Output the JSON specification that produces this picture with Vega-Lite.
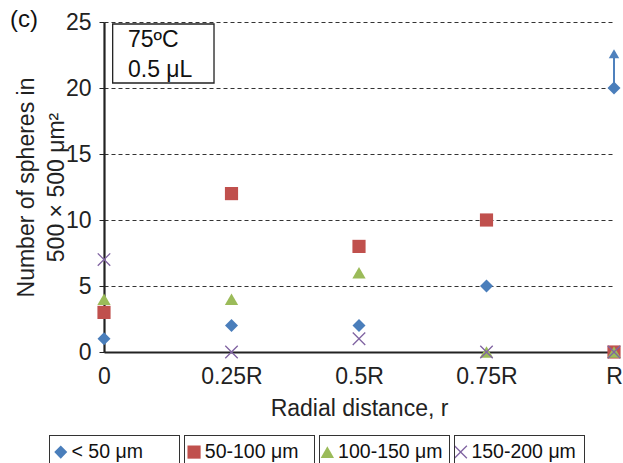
{
  "$schema": "https://vega.github.io/schema/vega-lite/v6.json",
  "width": 510,
  "height": 330,
  "autosize": {"type": "none"},
  "padding": {"left": 104, "top": 22, "right": 9, "bottom": 111},
  "config": {
    "font": "Liberation Sans",
    "view": {"stroke": null},
    "axis": {"labelFont": "Liberation Sans", "titleFont": "Liberation Sans", "labelColor": "#222", "titleColor": "#222"}
  },
  "title": {"text": "(c)", "anchor": "start", "frame": "group", "fontSize": 24, "fontWeight": "normal", "color": "#111", "dx": -94, "offset": -40, "baseline": "alphabetic"},
  "datasets": {
    "points": [
      {"r": 0, "n": 1, "size": "< 50 μm"},
      {"r": 0, "n": 3, "size": "50-100 μm"},
      {"r": 0, "n": 4, "size": "100-150 μm"},
      {"r": 0, "n": 7, "size": "150-200 μm"},
      {"r": 0.25, "n": 2, "size": "< 50 μm"},
      {"r": 0.25, "n": 12, "size": "50-100 μm"},
      {"r": 0.25, "n": 4, "size": "100-150 μm"},
      {"r": 0.25, "n": 0, "size": "150-200 μm"},
      {"r": 0.5, "n": 2, "size": "< 50 μm"},
      {"r": 0.5, "n": 8, "size": "50-100 μm"},
      {"r": 0.5, "n": 6, "size": "100-150 μm"},
      {"r": 0.5, "n": 1, "size": "150-200 μm"},
      {"r": 0.75, "n": 5, "size": "< 50 μm"},
      {"r": 0.75, "n": 10, "size": "50-100 μm"},
      {"r": 0.75, "n": 0, "size": "100-150 μm"},
      {"r": 0.75, "n": 0, "size": "150-200 μm"},
      {"r": 1, "n": 20, "size": "< 50 μm"},
      {"r": 1, "n": 0, "size": "50-100 μm"},
      {"r": 1, "n": 0, "size": "100-150 μm"},
      {"r": 1, "n": 0, "size": "150-200 μm"}
    ],
    "box": [{"x": 0.017, "x2": 0.2157, "y": 24.85, "y2": 20.38}],
    "notes": [
      {"x": 0.047, "y": 23.6, "t": "75ºC"},
      {"x": 0.047, "y": 21.4, "t": "0.5 μL"}
    ],
    "arrow": [{"r": 1, "from": 20, "to": 22.3, "head": 22.6}]
  },
  "layer": [
    {
      "data": {"name": "box"},
      "mark": {"type": "rect", "fill": "white", "stroke": "#222", "strokeWidth": 1.3},
      "encoding": {
        "x": {"field": "x", "type": "quantitative", "scale": {"domain": [0, 1], "nice": false}, "axis": {"values": [0, 0.25, 0.5, 0.75, 1], "labelExpr": "datum.value == 0 ? '0' : datum.value == 1 ? 'R' : datum.value + 'R'", "labelFlush": false, "grid": false, "ticks": false, "domainColor": "#222", "domainWidth": 2.2, "labelFontSize": 23, "labelPadding": 13, "title": "Radial distance, r", "titleFontSize": 23, "titleFontWeight": "normal", "titlePadding": 9}},
        "x2": {"field": "x2"},
        "y": {"field": "y", "type": "quantitative", "scale": {"domain": [0, 25], "nice": false}, "axis": {"values": [0, 5, 10, 15, 20, 25], "grid": true, "gridDash": [4, 3], "gridColor": "#333", "gridWidth": 1.1, "domainColor": "#222", "domainWidth": 2.2, "tickColor": "#222", "tickSize": 5, "labelFontSize": 23, "labelPadding": 8, "title": ["Number of spheres in", "500 × 500 μm²"], "titleFontSize": 23, "titleFontWeight": "normal", "titlePadding": -3, "titleLineHeight": 30}},
        "y2": {"field": "y2"}
      }
    },
    {
      "data": {"name": "notes"},
      "mark": {"type": "text", "align": "left", "baseline": "middle", "fontSize": 23, "color": "#111"},
      "encoding": {
        "x": {"field": "x", "type": "quantitative"},
        "y": {"field": "y", "type": "quantitative"},
        "text": {"field": "t"}
      }
    },
    {
      "data": {"name": "arrow"},
      "mark": {"type": "rule", "color": "#4F81BD", "strokeWidth": 2},
      "encoding": {
        "x": {"field": "r", "type": "quantitative"},
        "y": {"field": "from", "type": "quantitative"},
        "y2": {"field": "to"}
      }
    },
    {
      "data": {"name": "arrow"},
      "mark": {"type": "point", "shape": "triangle-up", "filled": true, "color": "#4F81BD", "size": 110, "opacity": 1},
      "encoding": {
        "x": {"field": "r", "type": "quantitative"},
        "y": {"field": "head", "type": "quantitative"}
      }
    },
    {
      "data": {"name": "points"},
      "mark": {"type": "point", "filled": true, "opacity": 1, "clip": false},
      "encoding": {
        "x": {"field": "r", "type": "quantitative"},
        "y": {"field": "n", "type": "quantitative"},
        "color": {
          "field": "size", "type": "nominal",
          "scale": {"domain": ["< 50 μm", "50-100 μm", "100-150 μm", "150-200 μm"], "range": ["#4A7EBB", "#C0504D", "#9BBB59", "#8064A2"]},
          "legend": {
            "title": null, "orient": "none", "legendX": -56, "legendY": 420, "direction": "horizontal", "columns": 4, "padding": 0, "gridAlign": "all",
            "labelFontSize": 19.5, "labelColor": "#111", "symbolSize": 80, "symbolOpacity": 1, "columnPadding": 5.3, "labelOffset": 1, "symbolOffset": 3,
            "labelLimit": 200
          }
        },
        "shape": {
          "field": "size", "type": "nominal",
          "scale": {"domain": ["< 50 μm", "50-100 μm", "100-150 μm", "150-200 μm"], "range": ["diamond", "square", "triangle-up", "M-1,-0.86L-0.86,-1L0,-0.14L0.86,-1L1,-0.86L0.14,0L1,0.86L0.86,1L0,0.14L-0.86,1L-1,0.86L-0.14,0Z"]}
        },
        "size": {
          "field": "size", "type": "nominal", "legend": null,
          "scale": {"domain": ["< 50 μm", "50-100 μm", "100-150 μm", "150-200 μm"], "range": [170, 180, 200, 150]}
        },
        "opacity": {
          "field": "size", "type": "ordinal",
          "scale": {"range": [1, 1, 1, 1]},
          "legend": {
            "title": null, "orient": "none", "legendX": -56, "legendY": 412, "direction": "horizontal", "columns": 4, "padding": 0, "gridAlign": "all",
            "symbolType": "M0,0H131V34H0Z M1,1V33H130V1Z", "symbolSize": 4, "symbolFillColor": "#333", "symbolOpacity": 1, "symbolStrokeWidth": 0, "symbolStrokeColor": "transparent", "symbolOffset": 0,
            "labelExpr": "''", "labelFontSize": 1, "labelOffset": 0, "columnPadding": 3
          }
        }
      }
    }
  ]
}
